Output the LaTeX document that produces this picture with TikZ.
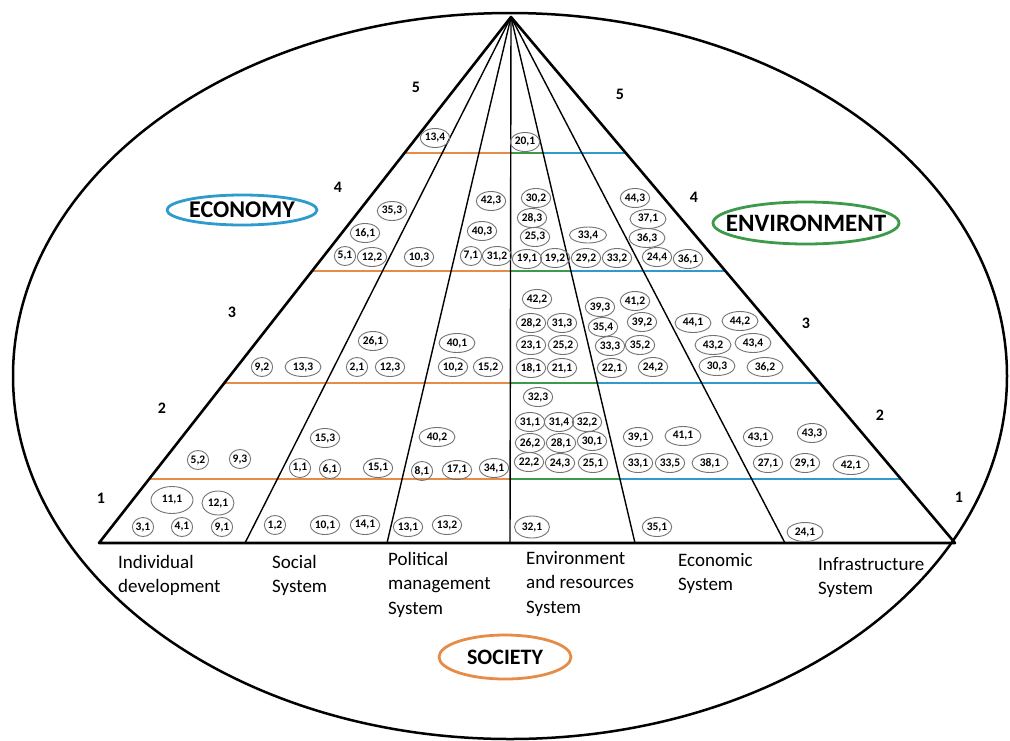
\documentclass[tikz,border=0pt]{standalone}
\usepackage{fontspec}
\setmainfont{Carlito}
\usepackage{tikz}
\usetikzlibrary{calc}
\usetikzlibrary{shapes.geometric}
\definecolor{socorange}{RGB}{230,140,70}
\definecolor{envgreen}{RGB}{60,155,75}
\definecolor{ecoblue}{RGB}{45,155,205}
\newcommand{\fs}[1]{\fontsize{#1}{#1}\selectfont}

\tikzset{
  cell/.style={ellipse, draw=black!55, line width=0.9pt, inner xsep=0.2pt, inner ysep=0.5pt, minimum height=19, font=\fs{11.5}\bfseries},
  lvl/.style={font=\fs{16}\bfseries},
  sphere/.style={font=\fs{24}\bfseries},
  sys/.style={anchor=north west, inner sep=0pt, align=left, font=\fontsize{19}{24.5}\selectfont},
  band/.style={line width=2pt},
}

\begin{document}
\begin{tikzpicture}[x=1pt,y=-1pt,line cap=round,line join=round]
  \useasboundingbox (0,0) rectangle (1010,740);
  % outer ellipse
  \draw[line width=2.5pt] (510,376) ellipse (497 and 363);

  % apex and base points
  \coordinate (top) at (511,17);
  \coordinate (b0) at (99,543);
  \coordinate (b1) at (245,543);
  \coordinate (b2) at (387,543);
  \coordinate (b3) at (510,543);
  \coordinate (b4) at (635,543);
  \coordinate (b5) at (785,543);
  \coordinate (b6) at (955,543);

  % levels
  \foreach \t in {0.2586,0.4829,0.6958,0.8783} {
    \draw[band, socorange] ($(top)!\t!(b0)$) -- ($(top)!\t!(b3)$);
    \draw[band, envgreen] ($(top)!\t!(b3)$) -- ($(top)!\t!(b4)$);
    \draw[band, ecoblue] ($(top)!\t!(b4)$) -- ($(top)!\t!(b6)$);
  }

  % dividers
  \foreach \b in {b1,b2,b3,b4,b5}
    \draw[line width=1.4pt] (top) -- (\b);
  \draw[line width=2.6pt] (b0) -- (top) -- (b6) -- cycle;

  % level numbers
  \node[lvl] (n5l) at (416,87) {5};
  \node[lvl] (n5r) at (620,94) {5};
  \node[lvl] (n4l) at (338,187) {4};
  \node[lvl] (n4r) at (694,197) {4};
  \node[lvl] (n3l) at (232,312) {3};
  \node[lvl] (n3r) at (806,323) {3};
  \node[lvl] (n2l) at (162,408) {2};
  \node[lvl] (n2r) at (880,415) {2};
  \node[lvl] (n1l) at (101,498) {1};
  \node[lvl] (n1r) at (959,497) {1};

  % spheres
  \node[sphere] (economy) at (242,210) {ECONOMY};
  \draw[ecoblue, line width=2.8pt] (economy) ellipse (75 and 15);
  \node[sphere, font=\fs{25}\bfseries] (environment) at (806,223) {ENVIRONMENT};
  \draw[envgreen, line width=2.8pt] (environment) ellipse (93 and 21);
  \node[sphere, font=\fs{22}\bfseries] (society) at (505,657) {SOCIETY};
  \draw[socorange, line width=2.8pt] (society) ellipse (66 and 22);

  % systems
  \node[sys] (indiv) at (118,555) {Individual\\development};
  \node[sys] (social) at (272,555) {Social\\System};
  \node[sys] (polit) at (388,552) {Political\\management\\System};
  \node[sys] (envres) at (526,551) {Environment\\and resources\\System};
  \node[sys] (econ) at (678,553) {Economic\\System};
  \node[sys] (infra) at (818,557) {Infrastructure\\System};

  % indicators
  \foreach \a/\b/\x/\y in {13/4/435/138, 20/1/525/142,
      35/3/392/211, 16/1/365/233, 5/1/345/256, 12/2/372/257, 10/3/419/257,
      42/3/491/201, 40/3/482/231, 7/1/471/256, 31/2/497/256,
      30/2/536/198, 28/3/532/218, 25/3/535/237, 19/1/527/259, 19/2/555/258,
      29/2/586/258, 33/2/617/258, 44/3/635/198, 24/4/657/257, 36/1/688/259,
      9/2/262/367, 26/1/373/341, 2/1/357/367, 12/3/390/367,
      10/2/453/367, 15/2/488/367,
      42/2/537/299, 28/2/531/323, 31/3/562/323, 23/1/531/345, 25/2/563/345,
      18/1/531/368, 21/1/562/368, 39/3/600/307, 41/2/635/301, 35/4/603/327,
      39/2/642/322, 33/3/610/346, 35/2/640/345, 22/1/612/368, 24/2/653/367,
      15/3/325/438, 5/2/198/460, 9/3/240/459, 1/1/300/468, 6/1/330/469,
      15/1/378/468, 8/1/422/471, 17/1/457/470, 34/1/494/468,
      3/1/143/527, 4/1/182/527, 9/1/222/527, 1/2/275/525, 10/1/325/525,
      14/1/365/525, 13/1/408/527, 13/2/447/525,
      32/3/538/397, 31/1/530/422, 31/4/559/422, 32/2/587/422,
      26/2/530/443, 28/1/561/443, 30/1/592/441, 22/2/529/462, 24/3/560/463,
      25/1/593/463, 39/1/638/437, 33/1/638/463, 33/5/670/463,
      43/1/758/437, 43/3/812/433, 27/1/768/463, 29/1/805/463, 35/1/657/527}
    \node[cell] (c\a-\b) at (\x,\y) {\a,\b};
  \foreach \a/\b/\x/\y in {37/1/648/219, 36/3/647/238, 13/3/303/367,
      40/1/457/343, 44/1/693/323, 44/2/740/321, 43/2/713/345, 43/4/753/343,
      30/3/717/366, 36/2/765/367, 40/2/437/437, 41/1/683/436, 38/1/710/463,
      42/1/851/465, 24/1/805/532}
    \node[cell, minimum width=36] (c\a-\b) at (\x,\y) {\a,\b};
  \node[cell, minimum width=37, minimum height=16] (c33-4) at (588,235) {33,4};
  \node[cell, minimum width=42, minimum height=27] (c11-1) at (172,500) {11,1};
  \node[cell, minimum width=32, minimum height=24] (c12-1) at (218,503) {12,1};
  \node[cell, minimum width=35, minimum height=22] (c32-1) at (532,527) {32,1};
\end{tikzpicture}
\end{document}
